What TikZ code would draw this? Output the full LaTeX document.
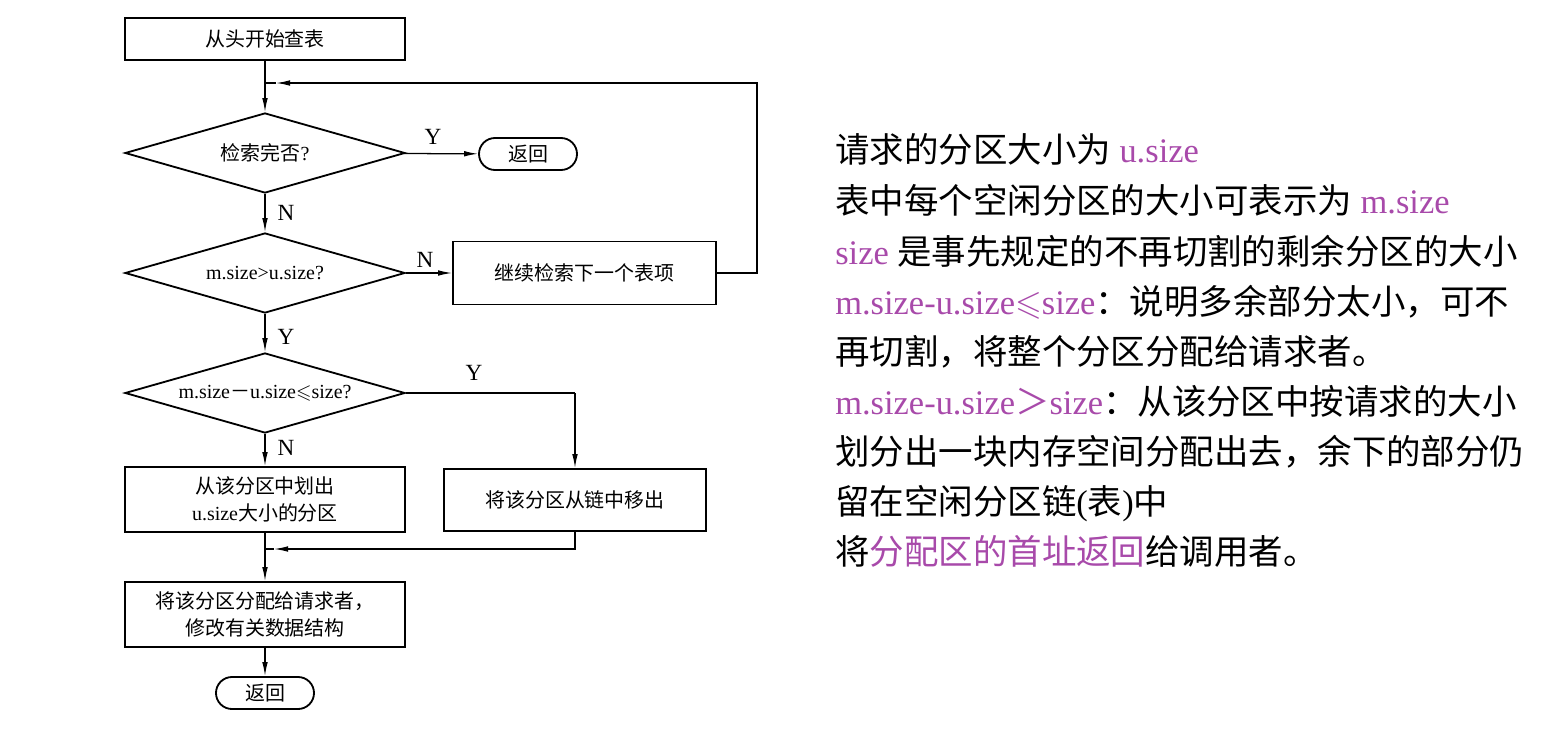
\documentclass[tikz,border=0pt]{standalone}
\usepackage{fontspec}
\usepackage{amssymb}
\usepackage{tikz}
\usetikzlibrary{shapes.geometric, arrows.meta, positioning}
\setmainfont{Liberation Serif}
\newfontfamily\zh{Noto Sans CJK SC}
\definecolor{hint}{RGB}{168,74,170}
\newcommand{\hl}[1]{\textcolor{hint}{#1}}

\begin{document}
\begin{tikzpicture}[x=0.025cm, y=-0.025cm,
    font=\fontsize{14.2}{19}\selectfont,
    box/.style={draw, line width=1.3pt, minimum width=7cm, minimum height=1.625cm, align=center, inner sep=2pt},
    decision/.style={draw, diamond, line width=1.3pt, minimum width=7cm, minimum height=2cm, inner sep=0pt, aspect=3.5},
    term/.style={draw, rectangle, rounded corners=0.4cm, line width=1.3pt, minimum width=2.45cm, minimum height=0.8cm},
    line/.style={line width=0.9pt},
    arr/.style={line width=0.9pt, -{Latex[length=3.5mm, width=1.4mm]}},
    yn/.style={inner sep=1pt, font=\fontsize{16.5}{19}\selectfont},
    txt/.style={anchor=base west, inner sep=0pt, font=\fontsize{24.5}{29}\selectfont}]
    \useasboundingbox (0,0) rectangle (1560,730);

    % Knoten des Ablaufs
    \node[box, minimum height=1.05cm] (start) at (265,39) {\zh 从头开始查表};
    \node[decision] (done) at (265,153) {{\zh 检索完否}?};
    \node[term] (ret1) at (528,154) {\zh 返回};
    \node[decision] (fit) at (265,273) {m.size>u.size?};
    \node[box, minimum width=6.575cm, minimum height=1.575cm] (next) at (584.5,273) {\zh 继续检索下一个表项};
    \node[decision] (rest) at (265,393) {m.size{\zh －}u.size$\leqslant$size?};
    \node[box] (cut) at (265,499.5) {{\zh 从该分区中划出}\\u.size{\zh 大小的分区}};
    \node[box, minimum width=6.55cm, minimum height=1.55cm] (unlink) at (575,500) {\zh 将该分区从链中移出};
    \node[box] (alloc) at (265,614.5) {{\zh 将该分区分配给请求者，}\\{\zh 修改有关数据结构}};
    \node[term] (ret2) at (265,693) {\zh 返回};

    % Hilfspunkte
    \coordinate (loopJ) at (265,83);
    \coordinate (loopA) at (276,83);
    \coordinate (loopR) at (757,83);
    \coordinate (yesR) at (575,393);
    \coordinate (mergeJ) at (265,549);
    \coordinate (mergeA) at (274,549);

    % Verbindungen
    \draw[arr] (start) -- (done);
    \draw[arr] (done) -- (ret1);
    \draw[arr] (done) -- (fit);
    \draw[arr] (fit) -- (next);
    \draw[arr] (next.east) -| (loopR) -- (loopA);
    \draw[line] (loopA) -- (loopJ);
    \draw[arr] (fit) -- (rest);
    \draw[line] (rest.east) -- (yesR);
    \draw[arr] (yesR) -- (unlink);
    \draw[arr] (rest) -- (cut);
    \draw[arr] (unlink.south) |- (mergeA);
    \draw[line] (mergeA) -- (mergeJ);
    \draw[arr] (cut) -- (alloc);
    \draw[arr] (alloc) -- (ret2);

    % Y/N
    \node[yn] (y1) at (433,137) {Y};
    \node[yn] (n1) at (286,213) {N};
    \node[yn] (n2) at (425,260) {N};
    \node[yn] (y2) at (286,337) {Y};
    \node[yn] (y3) at (474,373) {Y};
    \node[yn] (n3) at (286,448) {N};

    % Erklaerung rechts
    \node[txt] (t1) at (835,162) {{\zh 请求的分区大小为} \hl{u.size}};
    \node[txt] (t2) at (835,213) {{\zh 表中每个空闲分区的大小可表示为} \hl{m.size}};
    \node[txt] (t3) at (835,264) {\hl{size} {\zh 是事先规定的不再切割的剩余分区的大小}};
    \node[txt] (t4) at (835,314) {\hl{m.size-u.size$\leqslant$size}{\zh ：说明多余部分太小，可不}};
    \node[txt] (t5) at (835,364) {\zh 再切割，将整个分区分配给请求者。};
    \node[txt] (t6) at (835,414) {\hl{m.size-u.size{\zh ＞}size}{\zh ：从该分区中按请求的大小}};
    \node[txt] (t7) at (835,464) {\zh 划分出一块内存空间分配出去，余下的部分仍};
    \node[txt] (t8) at (835,514) {{\zh 留在空闲分区链}({\zh 表}){\zh 中}};
    \node[txt] (t9) at (835,564) {{\zh 将}\hl{\zh 分配区的首址返回}{\zh 给调用者。}};
\end{tikzpicture}
\end{document}
